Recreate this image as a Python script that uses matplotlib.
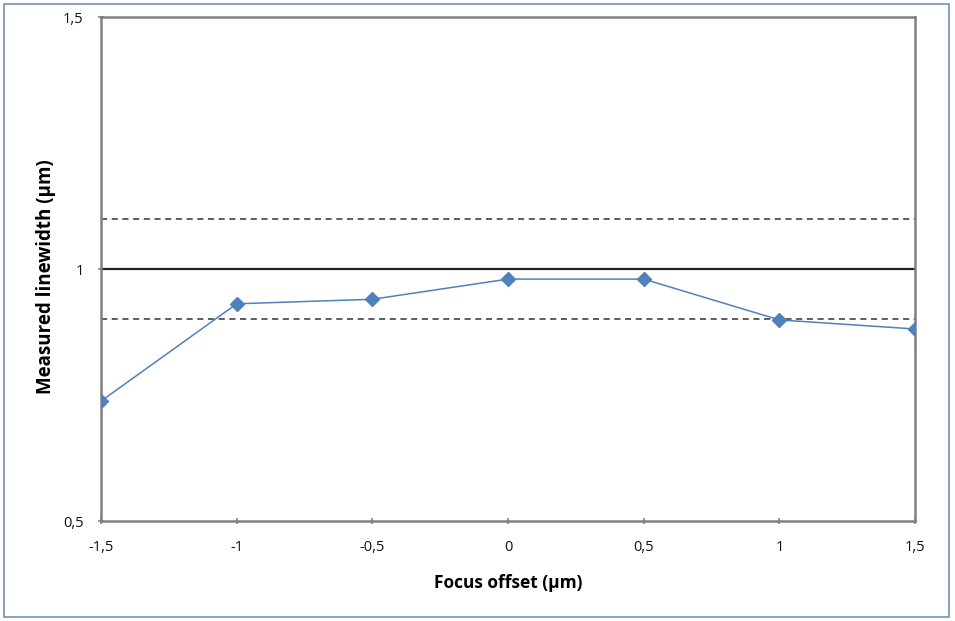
import matplotlib.pyplot as plt
from matplotlib.patches import Rectangle

# focus offset vs measured linewidth
focus_offset = [-1.5, -1.0, -0.5, 0.0, 0.5, 1.0, 1.5]
linewidth = [0.738, 0.931, 0.940, 0.980, 0.980, 0.899, 0.881]

target = 1.0
tol_upper = 1.1
tol_lower = 0.9

x_ticks = [-1.5, -1.0, -0.5, 0.0, 0.5, 1.0, 1.5]
x_labels = ['-1,5', '-1', '-0,5', '0', '0,5', '1', '1,5']
y_ticks = [0.5, 1.0, 1.5]
y_labels = ['0,5', '1', '1,5']

plt.rcParams['font.family'] = ['Open Sans', 'DejaVu Sans']

fig = plt.figure(figsize=(9.55, 6.21), dpi=100)
ax = fig.add_axes([0.1058, 0.161, 0.8524, 0.8116])

# outer chart border
fig.patches.append(Rectangle((4 / 955, 4 / 621), 945 / 955, 613 / 621,
                             transform=fig.transFigure, fill=False,
                             edgecolor='#7590b5', linewidth=1.2))

ax.axhline(target, color='#222222', linewidth=1.6, zorder=2)
ax.axhline(tol_upper, color='#333333', linewidth=1.1, linestyle=(0, (4, 3)), zorder=2)
ax.axhline(tol_lower, color='#333333', linewidth=1.1, linestyle=(0, (4, 3)), zorder=2)

ax.plot(focus_offset, linewidth, color='#4F81BD', linewidth=1.1,
        marker='D', markersize=7, zorder=3)

ax.set_xlim(-1.5, 1.5)
ax.set_ylim(0.5, 1.5)
ax.set_xticks(x_ticks)
ax.set_xticklabels(x_labels)
ax.set_yticks(y_ticks)
ax.set_yticklabels(y_labels)
ax.tick_params(axis='both', labelsize=10.5, colors='#888888', labelcolor='#111111',
               length=5, width=1.2, direction='inout')
ax.tick_params(axis='x', pad=11)
ax.tick_params(axis='y', pad=10)

for s in ax.spines.values():
    s.set_color('#808080')
    s.set_linewidth(1.8)

ax.set_xlabel('Focus offset (µm)', fontsize=12.5, fontweight='bold', labelpad=14)
ax.set_ylabel('Measured linewidth (µm)', fontsize=13.5, fontweight='bold')
ax.yaxis.set_label_coords(-45 / 814, 0.484)

fig.savefig('out.png', dpi=100)
